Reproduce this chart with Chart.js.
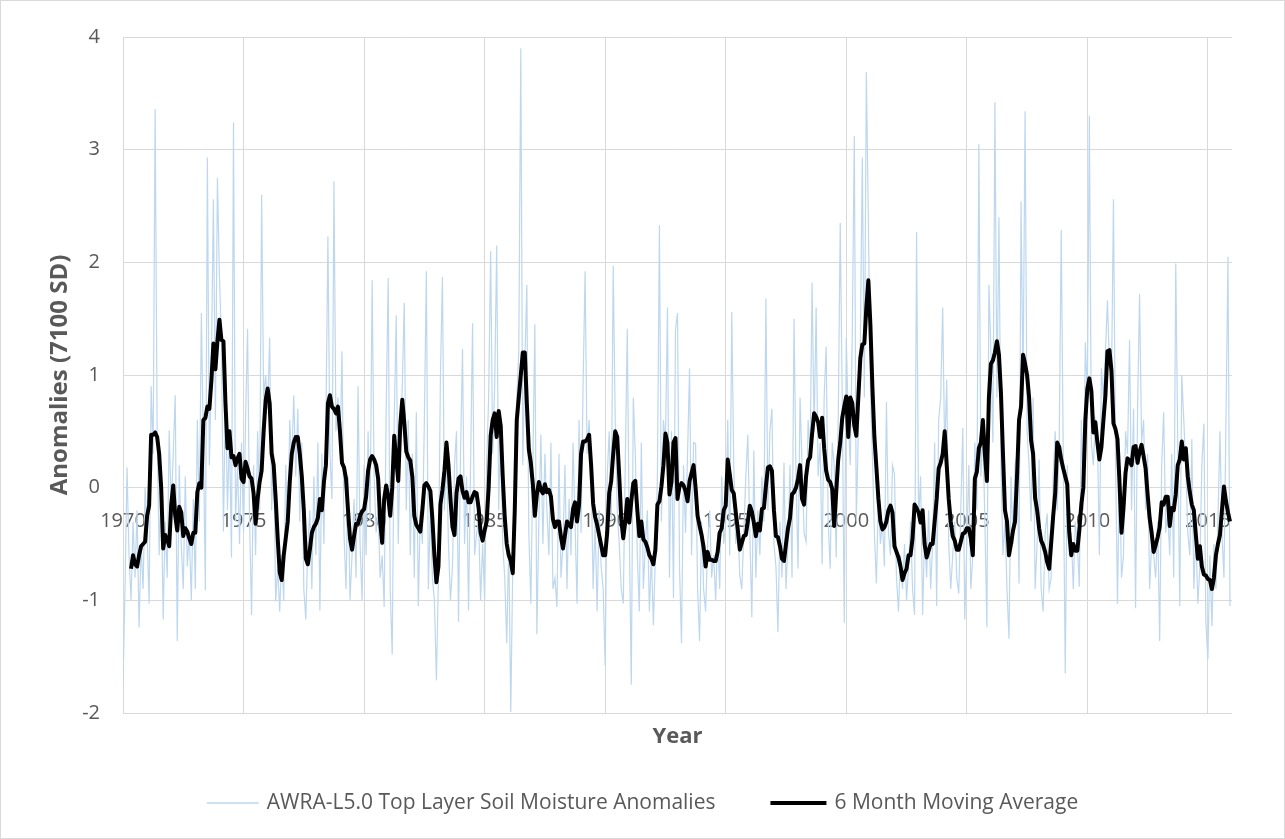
<!DOCTYPE html>
<html>
<head>
<meta charset="utf-8">
<title>AWRA-L5.0 Top Layer Soil Moisture Anomalies</title>
<script src="https://cdn.jsdelivr.net/npm/chart.js@4"></script>
<style>
  body { margin: 0; background: #fff; }
  #wrap { width: 1285px; height: 839px; }
</style>
</head>
<body>
<div id="wrap"><canvas id="anomChart" width="1285" height="839"></canvas></div>
<script>
// monthly series, Jan 1970 .. Dec 2015
const startYear = 1970;
const yearTicks = [1970, 1975, 1980, 1985, 1990, 1995, 2000, 2005, 2010, 2015];
const valueTicks = [-2, -1, 0, 1, 2, 3, 4];
const seriesNames = ['AWRA-L5.0 Top Layer Soil Moisture Anomalies', '6 Month Moving Average'];

const anomalies = [
  -1.75,-0.9,0.18,-0.6,-1.0,-0.3,-0.8,-0.2,-1.24,-0.5,-0.9,0.0,        // 1970
  -0.4,-1.03,0.9,0.3,3.36,0.5,-0.6,0.1,-1.17,-0.3,-0.8,0.51,
  -0.2,0.3,0.82,-1.36,0.2,-0.5,-0.9,0.1,-0.7,-0.4,-1.0,-0.1,
  -0.9,0.6,-0.3,1.55,0.4,-0.91,2.93,0.2,1.1,2.56,0.6,2.75,
  1.88,1.3,-0.39,0.9,-0.2,0.5,-0.62,3.24,-0.3,0.2,-0.5,0.4,
  -0.4,0.6,1.41,-0.3,-1.13,0.2,-0.6,0.5,-0.2,2.6,0.8,1.0,             // 1975
  0.7,1.33,-0.2,0.3,-1.01,-0.7,-1.1,-0.6,-1.0,0.2,-0.4,0.6,
  0.2,0.82,0.1,0.7,-0.3,0.4,-0.9,-1.17,-0.5,-0.2,-0.9,0.1,
  -0.6,0.4,-1.09,0.3,-0.5,0.6,2.23,0.3,-0.1,2.72,0.5,0.8,
  0.3,1.21,-0.4,-0.9,0.1,-1.0,-0.6,-0.1,-0.8,0.9,-0.5,-1.0,
  0.2,-0.6,0.5,-0.3,1.84,0.1,-0.4,-0.2,-0.8,-0.6,-1.06,0.7,           // 1980
  1.86,-0.9,-1.48,0.6,1.53,-0.5,0.4,0.9,1.64,-0.2,0.6,-0.6,
  0.3,-0.8,0.67,-1.05,-0.2,-0.5,0.6,1.92,-0.9,-0.2,-0.8,-1.0,
  -1.71,-0.8,1.0,1.87,-0.2,0.3,-0.5,-1.0,-0.7,0.2,0.5,-1.19,
  0.3,1.23,-0.5,0.1,-1.09,0.2,1.46,-0.6,-0.4,-0.3,-1.0,-0.5,
  -1.0,0.2,0.8,2.1,0.3,0.9,2.15,-0.2,0.6,-0.5,-0.8,-1.38,             // 1985
  -0.5,-1.99,-0.7,0.4,0.8,1.2,3.9,0.2,1.1,1.8,-0.4,-1.03,
  0.2,1.45,-1.3,-0.3,0.47,-0.5,0.3,-0.2,-0.6,0.4,-0.9,-0.8,
  -1.06,0.3,-0.8,-0.5,0.2,-0.9,-0.1,-0.6,0.4,-0.3,-1.03,0.6,
  -0.4,0.9,1.92,0.3,0.6,0.2,-0.9,-0.3,-1.1,-0.2,-0.7,-0.9,
  -1.58,0.1,0.5,-0.3,1.97,0.6,-0.2,-0.5,-0.9,-1.03,0.2,1.41,          // 1990
  -0.4,-1.75,0.8,0.3,-0.6,-1.1,0.4,-0.9,-0.5,-0.2,-1.1,-0.6,
  -1.22,-0.6,0.1,2.33,-0.3,0.6,0.4,1.6,-0.8,0.5,-0.98,1.4,
  1.55,-0.7,-1.38,0.2,-0.4,0.3,1.06,-0.6,0.4,0.39,-0.9,-1.36,
  -0.3,-0.9,-1.1,-0.5,-0.2,-0.8,-0.6,-1.0,-0.4,-0.9,0.1,-0.5,
  -0.3,0.6,-0.6,1.56,0.2,-0.5,-0.3,-0.78,-0.9,-0.4,0.1,0.47,          // 1995
  -0.4,-1.15,0.33,-0.8,-0.2,-0.6,0.1,-0.3,1.68,-0.2,0.5,0.7,
  -0.5,-0.7,-1.28,-0.3,-0.8,0.22,-0.9,-0.5,0.2,-0.8,1.5,0.1,
  -0.72,0.8,0.2,-0.4,-0.48,0.6,0.3,1.82,0.5,1.6,0.1,0.4,
  -0.68,0.8,1.25,-0.3,-0.72,0.4,0.2,-0.62,0.6,2.35,0.8,-1.2,
  1.33,0.6,0.2,1.37,3.12,-0.3,0.5,1.3,2.93,0.8,3.69,2.38,             // 2000
  0.9,0.3,-0.4,-0.85,-0.1,-0.5,-0.3,-0.7,0.76,-0.4,-0.6,0.2,
  0.12,-0.8,-1.1,-0.6,-0.9,-0.5,-1.0,-0.7,-0.3,-0.9,-1.13,2.27,
  -0.3,0.1,-1.13,-0.4,-0.8,-0.2,-0.9,-0.5,0.4,-1.05,0.6,0.8,
  1.6,0.3,0.96,-0.5,-0.9,-0.6,-0.3,-0.8,-0.94,-0.2,0.53,-1.17,
  -0.5,0.2,-0.9,-0.6,0.4,-0.2,3.05,0.1,0.5,-0.3,-1.24,1.8,            // 2005
  1.2,0.4,3.42,0.8,2.4,0.2,-0.6,-0.3,-0.9,-1.34,0.1,-0.5,
  0.2,0.3,-0.85,2.54,0.9,3.34,0.5,0.2,-0.3,0.8,-0.9,-0.5,
  0.25,-0.9,-1.1,-0.4,-0.23,-0.9,-0.8,0.1,0.5,-0.2,0.4,2.29,
  0.3,-1.65,0.2,-0.6,-0.4,-0.9,-0.3,-0.5,-0.88,0.6,-0.2,1.29,
  0.8,3.3,0.4,0.2,0.6,0.5,-0.6,1.06,0.8,1.2,1.66,1.1,                 // 2010
  0.9,2.56,0.3,-1.03,0.2,-0.8,-0.6,0.5,0.3,1.31,-0.2,0.7,
  -1.07,0.7,1.72,0.4,0.6,-0.2,0.3,-0.9,-0.5,-0.6,-0.8,-0.3,
  -1.36,0.2,0.67,-0.4,-0.2,-0.6,0.3,-0.8,1.99,0.4,-1.05,1.0,
  0.6,0.2,-0.4,-0.6,0.43,-0.9,-0.4,-1.03,-0.7,0.2,0.57,-1.2,
  -1.52,-0.6,-1.23,-0.5,-0.9,-0.3,0.5,-0.4,-0.8,0.6,2.05,-1.05        // 2015
];

const movingAvg = [
  null,null,null,null,-0.72,-0.6,-0.68,-0.7,-0.6,-0.52,-0.5,-0.48,    // 1970
  -0.25,-0.16,0.47,0.47,0.49,0.45,0.3,0.0,-0.54,-0.42,-0.46,-0.52,
  -0.15,0.02,-0.25,-0.38,-0.17,-0.22,-0.43,-0.36,-0.39,-0.45,-0.5,-0.4,
  -0.4,-0.04,0.04,0.0,0.6,0.62,0.72,0.7,0.95,1.28,1.05,1.3,
  1.49,1.31,1.3,0.75,0.35,0.5,0.27,0.28,0.2,0.26,0.3,0.08,
  0.05,0.23,0.17,0.1,0.08,-0.05,-0.32,-0.1,0.05,0.15,0.5,0.78,        // 1975
  0.88,0.75,0.3,0.2,-0.1,-0.45,-0.75,-0.82,-0.6,-0.45,-0.3,0.05,
  0.3,0.4,0.45,0.45,0.3,0.1,-0.2,-0.63,-0.68,-0.55,-0.4,-0.35,
  -0.32,-0.27,-0.1,-0.2,0.05,0.2,0.75,0.82,0.72,0.7,0.66,0.72,
  0.5,0.22,0.18,0.08,-0.2,-0.45,-0.55,-0.43,-0.32,-0.32,-0.25,-0.21,
  -0.19,-0.08,0.15,0.25,0.28,0.25,0.2,0.08,-0.3,-0.49,-0.1,0.02,      // 1980
  -0.08,-0.25,0.0,0.46,0.25,0.06,0.55,0.78,0.58,0.32,0.27,0.24,
  0.1,-0.25,-0.33,-0.36,-0.39,-0.2,0.02,0.04,0.01,-0.03,-0.28,-0.6,
  -0.84,-0.7,-0.15,-0.02,0.15,0.4,0.2,-0.1,-0.35,-0.42,-0.05,0.08,
  0.1,-0.03,-0.09,-0.04,-0.13,-0.13,-0.08,-0.04,-0.05,-0.18,-0.4,-0.47,
  -0.38,-0.3,0.0,0.46,0.6,0.66,0.45,0.68,0.55,0.1,-0.26,-0.5,         // 1985
  -0.6,-0.65,-0.76,-0.2,0.6,0.8,1.0,1.2,1.2,0.75,0.34,0.22,
  0.03,-0.25,-0.06,0.05,-0.02,-0.05,0.03,-0.04,-0.02,-0.08,-0.28,-0.35,
  -0.3,-0.3,-0.44,-0.54,-0.42,-0.3,-0.33,-0.35,-0.19,-0.13,-0.3,-0.15,
  0.3,0.41,0.41,0.43,0.47,0.2,-0.14,-0.26,-0.33,-0.42,-0.51,-0.6,
  -0.6,-0.4,-0.05,0.06,0.3,0.5,0.45,0.1,-0.28,-0.45,-0.3,-0.1,        // 1990
  -0.31,-0.12,0.04,0.06,-0.2,-0.43,-0.3,-0.46,-0.48,-0.53,-0.6,-0.63,
  -0.68,-0.55,-0.15,-0.12,0.01,0.2,0.48,0.4,-0.06,0.05,0.4,0.44,
  -0.1,0.01,0.04,0.02,-0.03,-0.12,0.06,0.13,0.2,0.0,-0.25,-0.34,
  -0.42,-0.53,-0.7,-0.57,-0.64,-0.64,-0.65,-0.65,-0.57,-0.4,-0.36,-0.2,
  -0.16,0.25,0.12,-0.02,-0.05,-0.22,-0.37,-0.55,-0.49,-0.43,-0.42,-0.3, // 1995
  -0.16,-0.21,-0.31,-0.43,-0.32,-0.38,-0.19,-0.18,0.01,0.18,0.19,0.15,
  -0.2,-0.43,-0.44,-0.52,-0.63,-0.65,-0.5,-0.36,-0.27,-0.06,-0.04,0.0,
  0.08,0.2,-0.1,-0.15,0.1,0.24,0.27,0.48,0.66,0.63,0.58,0.45,
  0.62,0.35,0.15,0.07,0.05,-0.01,-0.34,-0.04,0.25,0.4,0.62,0.72,
  0.81,0.45,0.8,0.75,0.55,0.46,0.8,1.15,1.27,1.28,1.6,1.84,           // 2000
  1.45,0.9,0.45,0.18,-0.1,-0.3,-0.37,-0.35,-0.3,-0.2,-0.16,-0.22,
  -0.52,-0.57,-0.62,-0.7,-0.82,-0.76,-0.72,-0.6,-0.6,-0.45,-0.15,-0.18,
  -0.22,-0.31,-0.2,-0.5,-0.62,-0.56,-0.5,-0.5,-0.3,-0.1,0.17,0.22,
  0.3,0.5,0.2,-0.1,-0.3,-0.43,-0.47,-0.55,-0.55,-0.48,-0.41,-0.4,
  -0.36,-0.36,-0.45,-0.6,0.08,0.14,0.35,0.4,0.6,0.3,0.06,0.8,         // 2005
  1.1,1.13,1.2,1.3,1.18,0.84,0.3,-0.2,-0.3,-0.6,-0.5,-0.38,
  -0.3,0.1,0.6,0.72,1.18,1.1,1.0,0.8,0.42,0.3,-0.09,-0.2,
  -0.36,-0.47,-0.51,-0.57,-0.66,-0.72,-0.49,-0.25,-0.05,0.4,0.36,0.25,
  0.17,0.1,0.03,-0.4,-0.6,-0.5,-0.56,-0.56,-0.38,-0.15,0.0,0.6,
  0.88,0.97,0.86,0.49,0.58,0.4,0.25,0.36,0.6,0.82,1.21,1.22,          // 2010
  1.04,0.57,0.52,0.43,0.05,-0.4,-0.18,0.13,0.26,0.24,0.2,0.36,
  0.37,0.22,0.32,0.38,0.28,0.17,-0.06,-0.27,-0.4,-0.57,-0.51,-0.44,
  -0.35,-0.13,-0.15,-0.08,-0.08,-0.34,-0.18,-0.2,-0.06,0.2,0.25,0.41,
  0.25,0.35,0.1,-0.04,-0.15,-0.2,-0.42,-0.63,-0.52,-0.7,-0.77,-0.78,
  -0.81,-0.82,-0.9,-0.8,-0.6,-0.5,-0.42,-0.2,0.01,-0.12,-0.22,-0.3    // 2015
];

const textGrey = '#595959';
const gridGrey = '#d9d9d9';
const blueLine = '#bdd7ee';
const fontFam = '"Open Sans", "DejaVu Sans", sans-serif';

function toPoints(arr) {
  return arr.map((v, i) => ({ x: startYear + i / 12, y: v }));
}

// light grey border round the whole chart, like the excel chart area
const frame = {
  id: 'frame',
  beforeDraw(chart) {
    const ctx = chart.ctx;
    ctx.save();
    ctx.fillStyle = '#fff';
    ctx.fillRect(0, 0, chart.width, chart.height);
    ctx.strokeStyle = gridGrey;
    ctx.lineWidth = 1;
    ctx.strokeRect(0.5, 0.5, chart.width - 1, chart.height - 1);
    ctx.restore();
  }
};

// legend: line sample + label, centred under the plot
const lineLegend = {
  id: 'lineLegend',
  afterDraw(chart) {
    const ctx = chart.ctx;
    const y = 803;
    const items = [
      { text: seriesNames[0], color: blueLine, width: 1.5, sample: 52 },
      { text: seriesNames[1], color: '#000', width: 4, sample: 56 }
    ];
    ctx.save();
    ctx.font = '21px ' + fontFam;
    const gap = 8, spacing = 55;
    const widths = items.map(it => it.sample + gap + ctx.measureText(it.text).width);
    let x = (chart.width - widths[0] - widths[1] - spacing) / 2;
    items.forEach((it, k) => {
      ctx.strokeStyle = it.color;
      ctx.lineWidth = it.width;
      ctx.beginPath();
      ctx.moveTo(x, y);
      ctx.lineTo(x + it.sample, y);
      ctx.stroke();
      ctx.fillStyle = textGrey;
      ctx.textAlign = 'left';
      ctx.textBaseline = 'middle';
      ctx.fillText(it.text, x + it.sample + gap, y);
      x += widths[k] + spacing;
    });
    ctx.restore();
  }
};

const padLeft = 44;

new Chart(document.getElementById('anomChart'), {
  type: 'line',
  data: {
    datasets: [
      {
        label: seriesNames[1],
        data: toPoints(movingAvg),
        borderColor: '#000',
        borderWidth: 4,
        borderJoinStyle: 'round',
        pointRadius: 0,
        order: 1
      },
      {
        label: seriesNames[0],
        data: toPoints(anomalies),
        borderColor: blueLine,
        borderWidth: 1.2,
        pointRadius: 0,
        order: 2
      }
    ]
  },
  options: {
    responsive: false,
    animation: false,
    devicePixelRatio: 1,
    layout: { padding: { left: padLeft, right: 53, top: 37, bottom: 89 } },
    plugins: {
      legend: { display: false },
      tooltip: { enabled: false }
    },
    scales: {
      x: {
        type: 'linear',
        min: 1970,
        max: 2016,
        position: { y: 0 },   // labels sit on the zero line, as in excel
        afterBuildTicks: s => { s.ticks = yearTicks.map(v => ({ value: v })); },
        ticks: {
          callback: v => String(v),
          padding: 22,
          color: textGrey,
          font: { size: 20, family: fontFam },
          maxRotation: 0,
          autoSkip: false
        },
        grid: { color: gridGrey, drawTicks: false },
        border: { display: false }
      },
      xTitle: {
        type: 'linear',
        position: 'bottom',
        min: 0,
        max: 1,
        ticks: { display: false },
        grid: { display: false },
        border: { display: false },
        title: {
          display: true,
          text: 'Year',
          color: textGrey,
          font: { size: 22, weight: 'bold', family: fontFam },
          padding: 0
        },
        afterFit: s => { s.height = 37; }
      },
      y: {
        min: -2,
        max: 4,
        afterBuildTicks: s => { s.ticks = valueTicks.map(v => ({ value: v })); },
        ticks: {
          padding: 23,
          color: textGrey,
          font: { size: 20, family: fontFam }
        },
        grid: { color: gridGrey, drawTicks: false },
        border: { display: false },
        title: {
          display: true,
          text: 'Anomalies (7100 SD)',
          color: textGrey,
          font: { size: 24, weight: 'bold', family: fontFam },
          padding: { top: 2, bottom: 2 }
        },
        afterFit: s => { s.width = 123 - padLeft; }
      }
    }
  },
  plugins: [frame, lineLegend]
});
</script>
</body>
</html>
